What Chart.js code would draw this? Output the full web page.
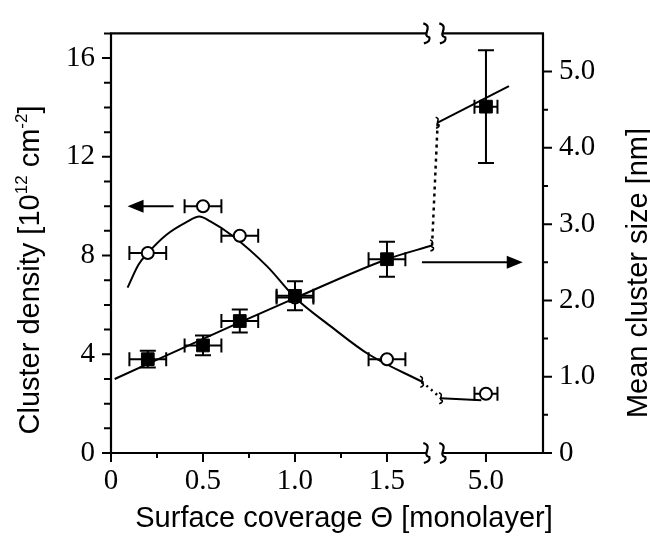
<!DOCTYPE html>
<html>
<head>
<meta charset="utf-8">
<script src="https://cdn.jsdelivr.net/npm/chart.js@4/dist/chart.umd.min.js"></script>
<style>
  html, body { margin: 0; padding: 0; background: #fff; }
  #wrap { width: 650px; height: 536px; }
</style>
</head>
<body>
<div id="wrap"><canvas id="chart" width="650" height="536"></canvas></div>
<script>
// measured points
var coverage = [0.2, 0.5, 0.7, 1.0, 1.5, 5.0];
var coverageErr = [0.1, 0.1, 0.1, 0.1, 0.1, 0.25];
var density = [8.1, 10.0, 8.8, 6.3, 3.8, 2.4];
var clusterSize = [1.23, 1.41, 1.73, 2.06, 2.54, 4.54];
var clusterSizeErr = [0.11, 0.13, 0.15, 0.19, 0.23, 0.74];

// guide curves
var densityFitX = [0.09, 0.15, 0.2, 0.3, 0.41, 0.48, 0.54, 0.66, 0.85, 1.0, 1.2, 1.4, 1.69];
var densityFitY = [6.7, 7.64, 8.1, 8.83, 9.35, 9.58, 9.38, 8.8, 7.55, 6.3, 5.1, 4.0, 2.89];
var densityGapX = [1.69, 4.02];
var densityGapY = [2.89, 2.22];
var densityTailX = [4.02, 4.9];
var densityTailY = [2.22, 2.14];

var sizeFitX = [0.02, 0.66, 1.0, 1.5, 1.745];
var sizeFitY = [0.97, 1.67, 2.03, 2.54, 2.72];
var sizeGapX = [1.745, 3.95];
var sizeGapY = [2.72, 4.33];
var sizeTailX = [3.95, 5.5];
var sizeTailY = [4.33, 4.81];

// ticks
var xTicks = [0, 0.5, 1.0, 1.5, 5.0];
var xTickLabels = ['0', '0.5', '1.0', '1.5', '5.0'];
var xMinorTicks = [0.25, 0.75, 1.25];
var leftTicks = [0, 4, 8, 12, 16];
var leftTickLabels = ['0', '4', '8', '12', '16'];
var rightTicks = [0, 1, 2, 3, 4, 5];
var rightTickLabels = ['0', '1.0', '2.0', '3.0', '4.0', '5.0'];

// broken x axis: values past the break are squeezed next to 1.5
var BREAK_FROM = 5.0, BREAK_AT = 2.038, POST_SCALE = 0.25;
var GAP_LEFT = 1.717, GAP_RIGHT = 1.804;
function pos( x ) {
	return x > 2 ? BREAK_AT + ( x - BREAK_FROM ) * POST_SCALE : x;
}
function pts( xs, ys ) {
	return xs.map( function( x, i ) { return { x: pos( x ), y: ys[ i ] }; } );
}

var SANS = '"Liberation Sans", Arial, sans-serif';
var SERIF = '"Liberation Serif", "Times New Roman", serif';

function squiggle( ctx, x, y, h ) {
	ctx.beginPath();
	ctx.moveTo( x - h * 0.18, y - h / 2 );
	ctx.bezierCurveTo( x + h * 0.35, y - h * 0.35, x - h * 0.3, y + h * 0.1, x + h * 0.12, y + h * 0.2 );
	ctx.quadraticCurveTo( x + h * 0.2, y + h * 0.4, x - h * 0.15, y + h / 2 );
	ctx.stroke();
}

function arrow( ctx, x1, y, x2 ) {
	var dir = x2 > x1 ? 1 : -1;
	ctx.beginPath();
	ctx.moveTo( x1, y );
	ctx.lineTo( x2 - dir * 12, y );
	ctx.stroke();
	ctx.beginPath();
	ctx.moveTo( x2, y );
	ctx.lineTo( x2 - dir * 16, y - 6.5 );
	ctx.lineTo( x2 - dir * 16, y + 6.5 );
	ctx.closePath();
	ctx.fill();
}

function drawTitle( ctx, pieces, cx, cy, rotate, size ) {
	var supSize = Math.round( size * 0.6 );
	var total = 0;
	pieces.forEach( function( p ) {
		ctx.font = ( p[ 1 ] ? supSize : size ) + 'px ' + SANS;
		p.w = ctx.measureText( p[ 0 ] ).width;
		total += p.w;
	} );
	ctx.save();
	ctx.translate( cx, cy );
	if ( rotate ) {
		ctx.rotate( -Math.PI / 2 );
	}
	ctx.textBaseline = 'alphabetic';
	ctx.textAlign = 'left';
	var x = -total / 2;
	pieces.forEach( function( p ) {
		ctx.font = ( p[ 1 ] ? supSize : size ) + 'px ' + SANS;
		ctx.fillText( p[ 0 ], x, p[ 1 ] ? -size * 0.4 : 0 );
		x += p.w;
	} );
	ctx.restore();
}

var decor = {
	id: 'decor',
	beforeDatasetsDraw: function( chart ) {
		var ctx = chart.ctx;
		var sx = chart.scales.x, sy = chart.scales.y, sy2 = chart.scales.y2;
		ctx.save();
		ctx.strokeStyle = '#000';
		ctx.lineWidth = 2;
		coverage.forEach( function( x, i ) {
			var xl = sx.getPixelForValue( pos( x - coverageErr[ i ] ) );
			var xr = sx.getPixelForValue( pos( x + coverageErr[ i ] ) );
			[ sy.getPixelForValue( density[ i ] ), sy2.getPixelForValue( clusterSize[ i ] ) ].forEach( function( py ) {
				ctx.beginPath();
				ctx.moveTo( xl, py ); ctx.lineTo( xr, py );
				ctx.moveTo( xl, py - 7 ); ctx.lineTo( xl, py + 7 );
				ctx.moveTo( xr, py - 7 ); ctx.lineTo( xr, py + 7 );
				ctx.stroke();
			} );
			var px = sx.getPixelForValue( pos( x ) );
			var yt = sy2.getPixelForValue( clusterSize[ i ] + clusterSizeErr[ i ] );
			var yb = sy2.getPixelForValue( clusterSize[ i ] - clusterSizeErr[ i ] );
			ctx.beginPath();
			ctx.moveTo( px, yt ); ctx.lineTo( px, yb );
			ctx.moveTo( px - 8, yt ); ctx.lineTo( px + 8, yt );
			ctx.moveTo( px - 8, yb ); ctx.lineTo( px + 8, yb );
			ctx.stroke();
		} );
		ctx.restore();
	},
	afterDraw: function( chart ) {
		var ctx = chart.ctx;
		var a = chart.chartArea;
		var sx = chart.scales.x, sy = chart.scales.y, sy2 = chart.scales.y2;
		var gl = sx.getPixelForValue( GAP_LEFT ), gr = sx.getPixelForValue( GAP_RIGHT );
		ctx.save();
		ctx.strokeStyle = '#000';
		ctx.fillStyle = '#000';
		ctx.lineWidth = 2.2;
		ctx.lineCap = 'butt';

		// frame with the axis break
		ctx.beginPath();
		ctx.moveTo( a.left, a.top ); ctx.lineTo( a.left, a.bottom );
		ctx.moveTo( a.right, a.top ); ctx.lineTo( a.right, a.bottom );
		[ a.top, a.bottom ].forEach( function( y ) {
			ctx.moveTo( a.left - 1, y ); ctx.lineTo( gl, y );
			ctx.moveTo( gr, y ); ctx.lineTo( a.right + 1, y );
		} );
		ctx.stroke();
		[ a.top, a.bottom ].forEach( function( y ) {
			squiggle( ctx, gl, y, 20 );
			squiggle( ctx, gr, y, 20 );
		} );

		// ticks
		ctx.lineWidth = 2;
		ctx.beginPath();
		xTicks.forEach( function( v ) {
			var px = sx.getPixelForValue( pos( v ) );
			ctx.moveTo( px, a.bottom ); ctx.lineTo( px, a.bottom + 9 );
		} );
		xMinorTicks.forEach( function( v ) {
			var px = sx.getPixelForValue( v );
			ctx.moveTo( px, a.bottom ); ctx.lineTo( px, a.bottom + 5 );
		} );
		for ( var v = 0; v <= 17; v++ ) {
			var py = sy.getPixelForValue( v );
			ctx.moveTo( a.left, py ); ctx.lineTo( a.left - ( v % 4 === 0 ? 9 : 7 ), py );
		}
		for ( var w = 0; w <= 5; w += 0.5 ) {
			var qy = sy2.getPixelForValue( w );
			ctx.moveTo( a.right, qy ); ctx.lineTo( a.right + ( w % 1 === 0 ? 9 : 5 ), qy );
		}
		ctx.stroke();

		// break marks on the guide curves
		ctx.lineWidth = 1.6;
		squiggle( ctx, sx.getPixelForValue( pos( densityGapX[ 0 ] ) ), sy.getPixelForValue( densityGapY[ 0 ] ), 11 );
		squiggle( ctx, sx.getPixelForValue( pos( densityGapX[ 1 ] ) ), sy.getPixelForValue( densityGapY[ 1 ] ), 11 );
		squiggle( ctx, sx.getPixelForValue( pos( sizeGapX[ 0 ] ) ), sy2.getPixelForValue( sizeGapY[ 0 ] ), 11 );
		squiggle( ctx, sx.getPixelForValue( pos( sizeGapX[ 1 ] ) ), sy2.getPixelForValue( sizeGapY[ 1 ] ), 11 );

		// arrows pointing to each axis
		ctx.lineWidth = 2;
		arrow( ctx, sx.getPixelForValue( 0.34 ), sy.getPixelForValue( 10 ), sx.getPixelForValue( 0.09 ) );
		arrow( ctx, sx.getPixelForValue( 1.69 ), sy2.getPixelForValue( 2.5 ), sx.getPixelForValue( pos( 5.8 ) ) );

		// axis titles
		drawTitle( ctx, [ [ 'Cluster density [10', 0 ], [ '12', 1 ], [ ' cm', 0 ], [ '-2', 1 ], [ ']', 0 ] ], 39, 270, true, 29 );
		drawTitle( ctx, [ [ 'Mean cluster size [nm]', 0 ] ], 647, 273, true, 29 );
		drawTitle( ctx, [ [ 'Surface coverage \u0398 [monolayer]', 0 ] ], 344, 527, false, 29 );
		ctx.restore();
	}
};

function lineSet( data, axis, dash ) {
	return {
		data: data,
		yAxisID: axis,
		showLine: true,
		borderColor: '#000',
		borderWidth: dash ? 2.5 : 2,
		borderDash: dash || [],
		pointRadius: 0,
		cubicInterpolationMode: 'monotone'
	};
}

new Chart( document.getElementById( 'chart' ), {
	type: 'scatter',
	data: {
		datasets: [
			{
				data: pts( coverage, clusterSize ),
				yAxisID: 'y2',
				pointStyle: 'rect',
				pointRadius: 9,
				backgroundColor: '#000',
				borderColor: '#000',
				borderWidth: 1
			},
			{
				data: pts( coverage, density ),
				yAxisID: 'y',
				pointStyle: 'circle',
				pointRadius: 6,
				backgroundColor: '#fff',
				borderColor: '#000',
				borderWidth: 2
			},
			lineSet( pts( densityFitX, densityFitY ), 'y' ),
			lineSet( pts( densityGapX, densityGapY ), 'y', [ 2, 4 ] ),
			lineSet( pts( densityTailX, densityTailY ), 'y' ),
			lineSet( pts( sizeFitX, sizeFitY ), 'y2' ),
			lineSet( pts( sizeGapX, sizeGapY ), 'y2', [ 3, 4 ] ),
			lineSet( pts( sizeTailX, sizeTailY ), 'y2' )
		]
	},
	options: {
		responsive: false,
		animation: false,
		events: [],
		layout: { padding: { top: 25, left: 0, right: 0, bottom: 0 } },
		plugins: { legend: { display: false }, tooltip: { enabled: false } },
		scales: {
			x: {
				type: 'linear',
				min: 0,
				max: 2.348,
				afterBuildTicks: function( s ) {
					s.ticks = xTicks.map( function( v ) { return { value: pos( v ) }; } );
				},
				afterFit: function( s ) { s.height = 83; },
				ticks: {
					callback: function( v, i ) { return xTickLabels[ i ]; },
					autoSkip: false, maxRotation: 0, minRotation: 0,
					padding: 11, color: '#000',
					font: { family: SERIF, size: 29 }
				},
				grid: { display: false, drawTicks: false },
				border: { display: false }
			},
			y: {
				position: 'left',
				min: 0,
				max: 17,
				afterBuildTicks: function( s ) {
					s.ticks = leftTicks.map( function( v ) { return { value: v }; } );
				},
				afterFit: function( s ) { s.width = 111; },
				ticks: {
					callback: function( v, i ) { return leftTickLabels[ i ]; },
					padding: 16, color: '#000',
					font: { family: SERIF, size: 29 }
				},
				grid: { display: false, drawTicks: false },
				border: { display: false }
			},
			y2: {
				position: 'right',
				min: 0,
				max: 5.5,
				afterBuildTicks: function( s ) {
					s.ticks = rightTicks.map( function( v ) { return { value: v }; } );
				},
				afterFit: function( s ) { s.width = 107; },
				ticks: {
					callback: function( v, i ) { return rightTickLabels[ i ]; },
					padding: 16, color: '#000',
					font: { family: SERIF, size: 29 }
				},
				grid: { display: false, drawTicks: false },
				border: { display: false }
			}
		}
	},
	plugins: [ decor ]
} );
</script>
</body>
</html>
